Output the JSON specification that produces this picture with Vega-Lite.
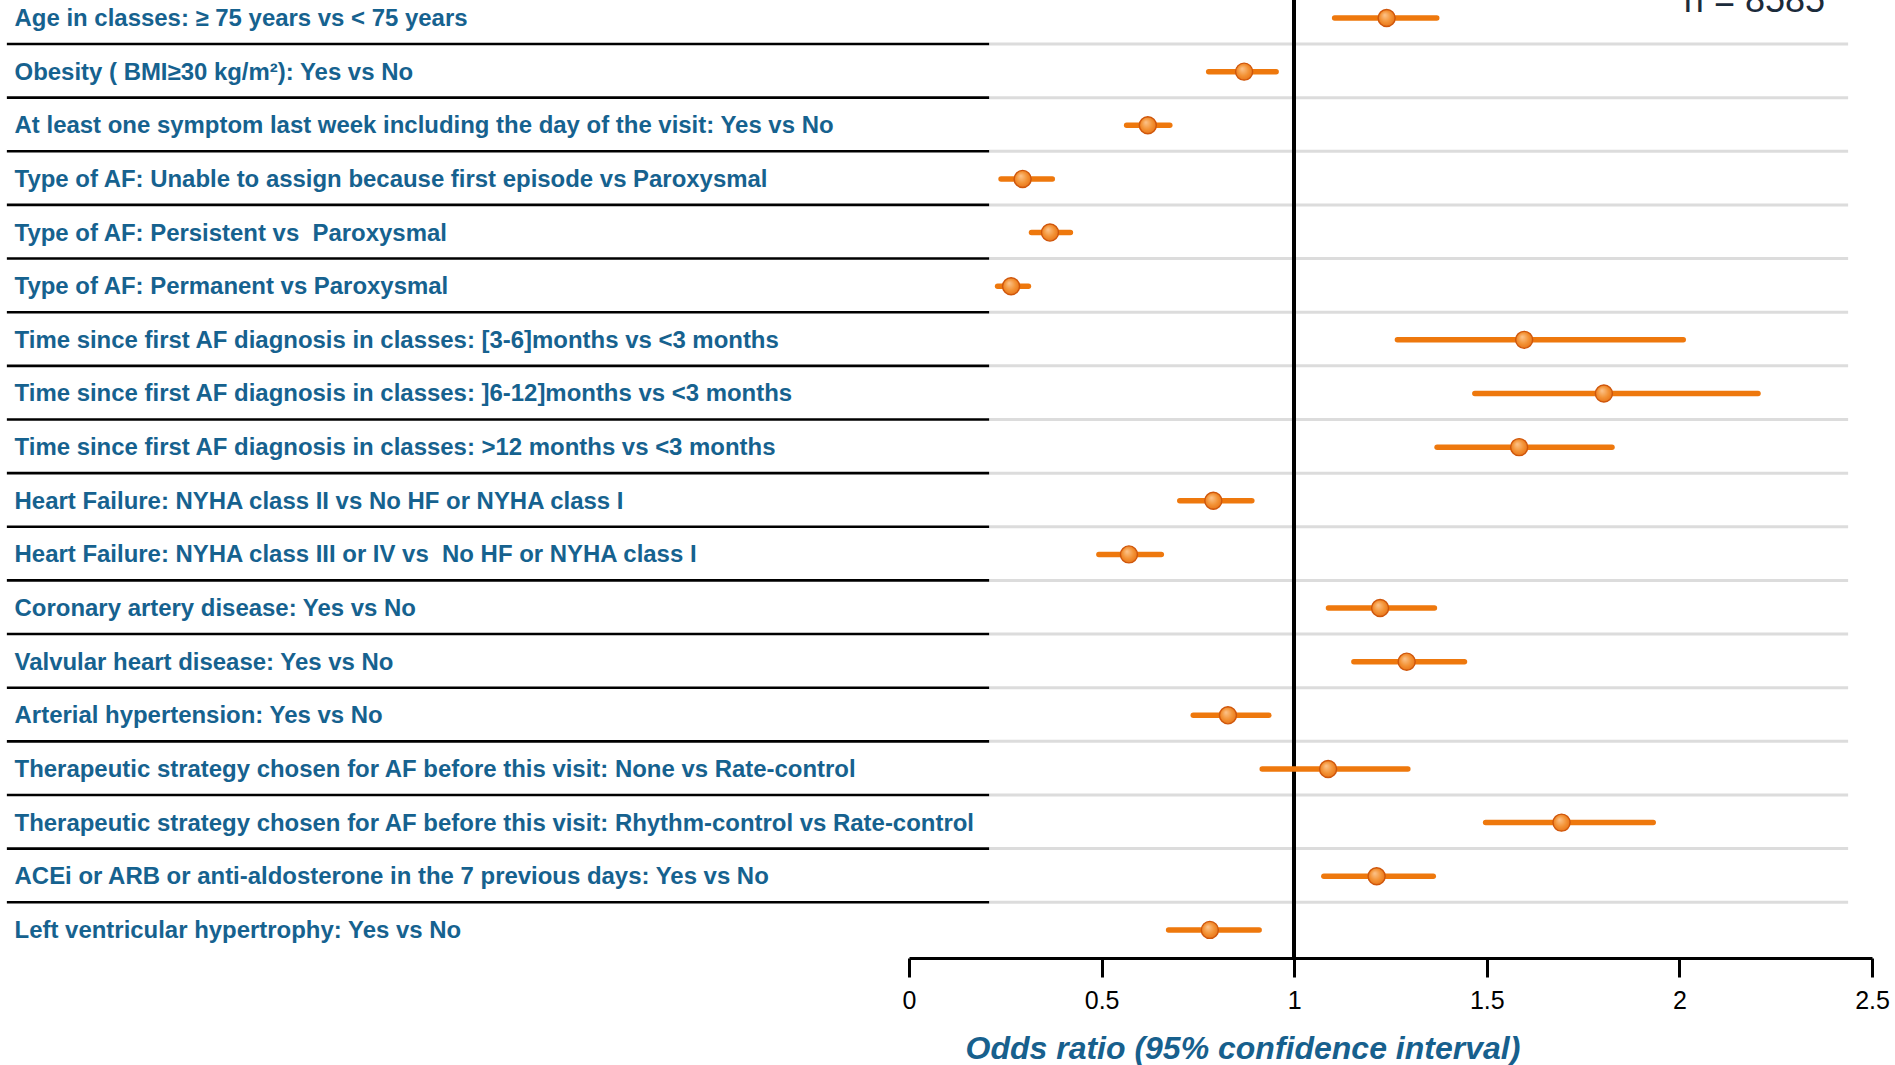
{
  "$schema": "https://vega.github.io/schema/vega-lite/v6.json",
  "autosize": {"type": "none"},
  "width": 963,
  "height": 958,
  "padding": {"left": 909, "top": 0, "right": 23, "bottom": 107},
  "background": "white",
  "config": {
    "view": {"stroke": null},
    "font": "Liberation Sans"
  },
  "datasets": {
    "estimates": [
      {"row": 1, "label": "Age in classes: ≥ 75 years vs < 75 years", "or": 1.24, "lo": 1.105, "hi": 1.37},
      {"row": 2, "label": "Obesity ( BMI≥30 kg/m²): Yes vs No", "or": 0.87, "lo": 0.778, "hi": 0.953},
      {"row": 3, "label": "At least one symptom last week including the day of the visit: Yes vs No", "or": 0.62, "lo": 0.565, "hi": 0.677},
      {"row": 4, "label": "Type of AF: Unable to assign because first episode vs Paroxysmal", "or": 0.295, "lo": 0.239, "hi": 0.372},
      {"row": 5, "label": "Type of AF: Persistent vs\u00a0 Paroxysmal", "or": 0.366, "lo": 0.318, "hi": 0.419},
      {"row": 6, "label": "Type of AF: Permanent vs Paroxysmal", "or": 0.265, "lo": 0.23, "hi": 0.31},
      {"row": 7, "label": "Time since first AF diagnosis in classes: [3-6]months vs <3 months", "or": 1.597, "lo": 1.268, "hi": 2.01},
      {"row": 8, "label": "Time since first AF diagnosis in classes: ]6-12]months vs <3 months", "or": 1.804, "lo": 1.469, "hi": 2.204},
      {"row": 9, "label": "Time since first AF diagnosis in classes: >12 months vs <3 months", "or": 1.584, "lo": 1.371, "hi": 1.825},
      {"row": 10, "label": "Heart Failure: NYHA class II vs No HF or NYHA class I", "or": 0.79, "lo": 0.703, "hi": 0.89},
      {"row": 11, "label": "Heart Failure: NYHA class III or IV vs\u00a0 No HF or NYHA class I", "or": 0.571, "lo": 0.493, "hi": 0.655},
      {"row": 12, "label": "Coronary artery disease: Yes vs No", "or": 1.223, "lo": 1.089, "hi": 1.364},
      {"row": 13, "label": "Valvular heart disease: Yes vs No", "or": 1.292, "lo": 1.155, "hi": 1.442},
      {"row": 14, "label": "Arterial hypertension: Yes vs No", "or": 0.828, "lo": 0.738, "hi": 0.934},
      {"row": 15, "label": "Therapeutic strategy chosen for AF before this visit: None vs Rate-control", "or": 1.088, "lo": 0.917, "hi": 1.295},
      {"row": 16, "label": "Therapeutic strategy chosen for AF before this visit: Rhythm-control vs Rate-control", "or": 1.694, "lo": 1.497, "hi": 1.932},
      {"row": 17, "label": "ACEi or ARB or anti-aldosterone in the 7 previous days: Yes vs No", "or": 1.214, "lo": 1.077, "hi": 1.361},
      {"row": 18, "label": "Left ventricular hypertrophy: Yes vs No", "or": 0.781, "lo": 0.674, "hi": 0.909}
    ],
    "sample": [
      {"row": 0.888, "pos": 2.378, "note": "n = 8585"}
    ]
  },
  "layer": [
    {
      "data": {"name": "estimates"},
      "transform": [{"filter": "datum.row < 18"}],
      "mark": {"type": "rule", "color": "#dcdcdc", "strokeWidth": 3, "yOffset": 26},
      "encoding": {
        "y": {
          "field": "row",
          "type": "quantitative",
          "scale": {"domain": [0.6644, 18.524], "reverse": true, "zero": false, "nice": false},
          "axis": null
        },
        "x": {"datum": 0.208, "type": "quantitative"},
        "x2": {"datum": 2.438}
      }
    },
    {
      "data": {"name": "estimates"},
      "transform": [{"filter": "datum.row < 18"}],
      "mark": {"type": "rule", "color": "#000000", "strokeWidth": 2.6, "yOffset": 26},
      "encoding": {
        "y": {"field": "row", "type": "quantitative"},
        "x": {"datum": -2.342, "type": "quantitative"},
        "x2": {"datum": 0.208}
      }
    },
    {
      "data": {"name": "estimates"},
      "mark": {"type": "rule", "color": "#000000", "strokeWidth": 3},
      "encoding": {
        "x": {"datum": 1, "type": "quantitative"}
      }
    },
    {
      "data": {"name": "estimates"},
      "mark": {"type": "rule", "color": "#ee780d", "strokeWidth": 5.5, "strokeCap": "round"},
      "encoding": {
        "y": {"field": "row", "type": "quantitative"},
        "x": {
          "field": "lo",
          "type": "quantitative",
          "scale": {"domain": [0, 2.5], "nice": false, "zero": false},
          "axis": {
            "values": [0, 0.5, 1, 1.5, 2, 2.5],
            "format": "~g",
            "grid": false,
            "domainColor": "#000000",
            "domainWidth": 3.2,
            "tickColor": "#000000",
            "tickWidth": 3,
            "tickSize": 19,
            "labelFontSize": 25,
            "labelColor": "#000000",
            "labelPadding": 11,
            "labelFlush": false,
            "labelOverlap": false,
            "labelFont": "Liberation Sans",
            "title": "Odds ratio (95% confidence interval)",
            "titleFont": "Liberation Sans",
            "titleFontSize": 32,
            "titleFontWeight": "bold",
            "titleFontStyle": "italic",
            "titleColor": "#17608d",
            "titleAlign": "left",
            "titleAnchor": "start",
            "titleX": 56,
            "titleY": 100,
            "titleBaseline": "alphabetic"
          }
        },
        "x2": {"field": "hi"}
      }
    },
    {
      "data": {"name": "estimates"},
      "mark": {
        "type": "point",
        "shape": "circle",
        "filled": true,
        "size": 290,
        "opacity": 1,
        "stroke": "#cf560b",
        "strokeWidth": 1.4,
        "fill": {
          "gradient": "radial",
          "x1": 0.38, "y1": 0.32, "r1": 0,
          "x2": 0.5, "y2": 0.5, "r2": 0.6,
          "stops": [
            {"offset": 0, "color": "#fcc48c"},
            {"offset": 0.55, "color": "#f39235"},
            {"offset": 1, "color": "#e46c10"}
          ]
        }
      },
      "encoding": {
        "y": {"field": "row", "type": "quantitative"},
        "x": {"field": "or", "type": "quantitative"}
      }
    },
    {
      "data": {"name": "estimates"},
      "mark": {
        "type": "text",
        "align": "left",
        "baseline": "middle",
        "dy": 1,
        "font": "Liberation Sans",
        "fontSize": 23.95,
        "fontWeight": "bold",
        "color": "#16628f"
      },
      "encoding": {
        "y": {"field": "row", "type": "quantitative"},
        "x": {"datum": -2.322, "type": "quantitative"},
        "text": {"field": "label"}
      }
    },
    {
      "data": {"name": "sample"},
      "mark": {
        "type": "text",
        "align": "right",
        "baseline": "alphabetic",
        "font": "Liberation Sans",
        "fontSize": 36,
        "color": "#1b2b3b"
      },
      "encoding": {
        "x": {"field": "pos", "type": "quantitative"},
        "y": {"field": "row", "type": "quantitative"},
        "text": {"field": "note"}
      }
    }
  ]
}
